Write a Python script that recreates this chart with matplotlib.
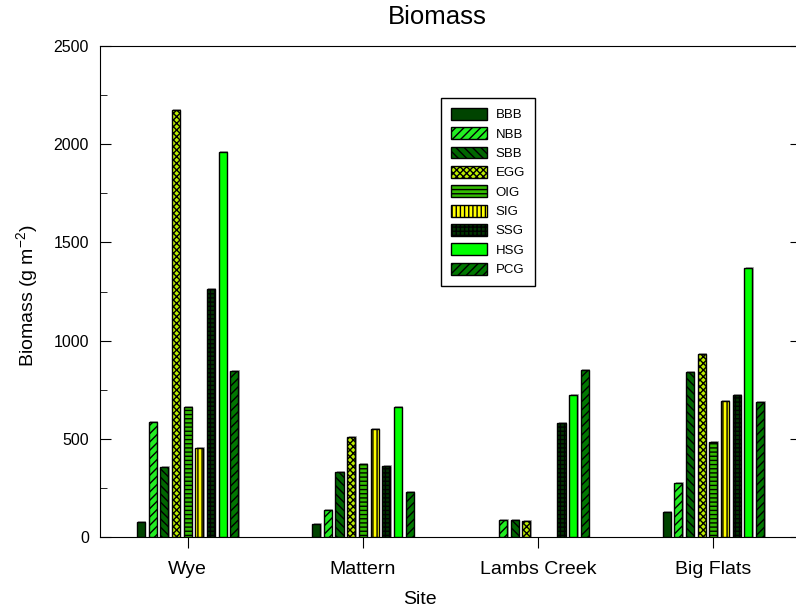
import numpy as np
import matplotlib.pyplot as plt
from matplotlib.ticker import MultipleLocator

plt.rcParams['font.family'] = ['Liberation Sans', 'DejaVu Sans']
plt.rcParams['hatch.linewidth'] = 1.0

sites = ["Wye", "Mattern", "Lambs Creek", "Big Flats"]
series = ["BBB", "NBB", "SBB", "EGG", "OIG", "SIG", "SSG", "HSG", "PCG"]

# biomass per series, one value per site (0 = no bar)
BBB = [78, 65, 0, 127]
NBB = [587, 137, 85, 273]
SBB = [355, 331, 85, 838]
EGG = [2172, 508, 83, 930]
OIG = [660, 372, 0, 482]
SIG = [453, 548, 0, 691]
SSG = [1261, 360, 582, 721]
HSG = [1959, 662, 721, 1371]
PCG = [845, 229, 848, 687]
values = [BBB, NBB, SBB, EGG, OIG, SIG, SSG, HSG, PCG]

colors = ["#004400", "#22ee22", "#006600", "#bbee00", "#33bb00",
          "#ffff00", "#003300", "#00ff00", "#007700"]
hatches = [None, "////", "\\\\\\\\", "xxxxx", "----", "||||", "++++", None, "////"]

fig = plt.figure(figsize=(7.96, 6.15), dpi=100)
ax = fig.add_axes([100 / 796, 78 / 615, 701 / 796, 491 / 615])

x = np.arange(len(sites))
pitch = 0.6 / 9
width = 0.046
for i, name in enumerate(series):
    pos = x + (i - 4) * pitch
    vals = np.array(values[i])
    keep = vals > 0
    # soft grey shadow behind each bar
    ax.bar(pos[keep] + 0.008, vals[keep] + 6, width, color="#b0b0b0",
           linewidth=0, zorder=2)
    ax.bar(pos[keep], vals[keep], width, color=colors[i], edgecolor="black",
           hatch=hatches[i], linewidth=1.0, label=name, zorder=3)

ax.set_xlim(-0.5, 3.5)
ax.set_ylim(0, 2500)
ax.set_xticks(x)
ax.set_xticklabels(sites, fontsize=14)
ax.yaxis.set_major_locator(MultipleLocator(500))
ax.yaxis.set_minor_locator(MultipleLocator(250))
ax.tick_params(axis="y", which="major", direction="in", length=8, labelsize=11.5,
               pad=8, right=True)
ax.tick_params(axis="y", which="minor", direction="in", length=5, right=False)
ax.tick_params(axis="x", direction="out", length=8, pad=9)
ax.tick_params(axis="x", which="minor", bottom=False)

fig.text(437 / 796, 1 - 24.5 / 615, "Biomass", fontsize=18.5, ha="center", va="baseline")
fig.text(420 / 796, 1 - 600 / 615, "Site", fontsize=14, ha="center", va="center")
fig.text(28 / 796, 1 - 296 / 615, "Biomass (g m$^{\\mathregular{-2}}$)", fontsize=14,
         rotation=90, ha="center", va="center")

leg = ax.legend(loc="upper left", bbox_to_anchor=(441 / 796, 1 - 98 / 615),
                bbox_transform=fig.transFigure, borderaxespad=0,
                fontsize=9.5, handlelength=2.7, handleheight=1.0,
                labelspacing=0.45, handletextpad=0.7, borderpad=0.75,
                fancybox=False, framealpha=1)
leg.get_frame().set_edgecolor("black")
leg.get_frame().set_linewidth(1.0)

fig.savefig("out.png", dpi=100)
